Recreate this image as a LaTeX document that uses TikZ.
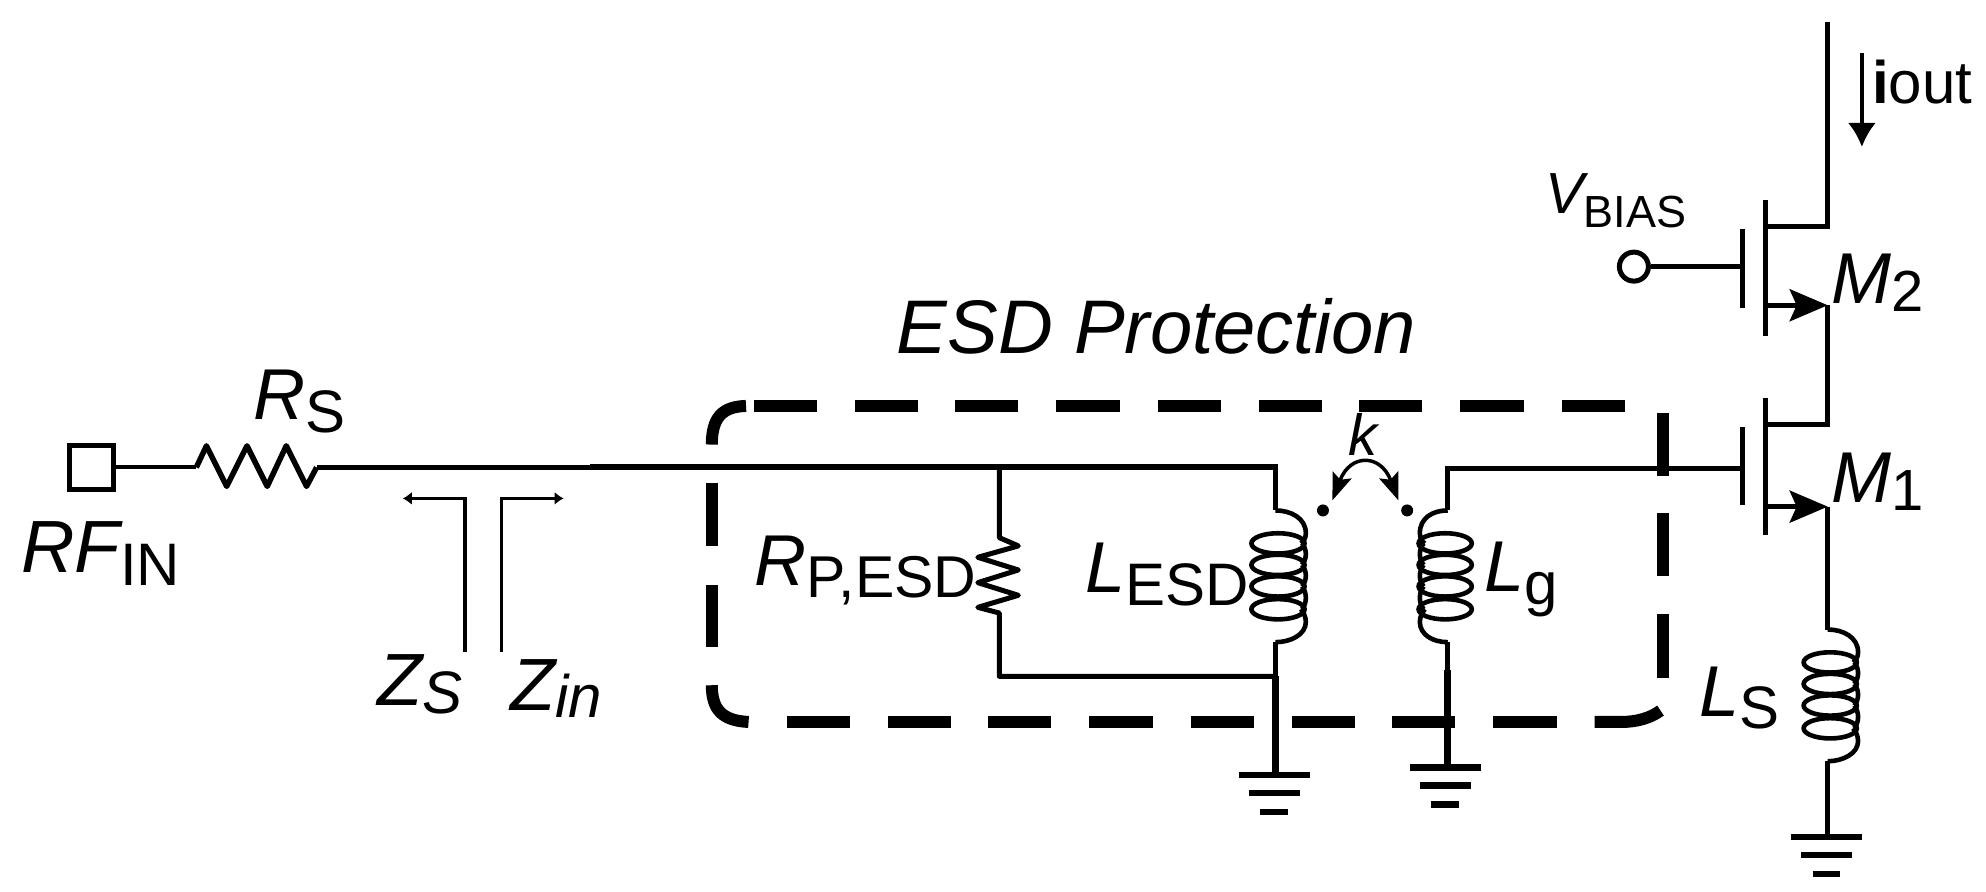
\documentclass[tikz,border=0pt]{standalone}
\usepackage{fontspec}
\setmainfont{Liberation Sans}
\usetikzlibrary{arrows.meta}
\tikzset{
  wire/.style={line width=5pt,line cap=butt,line join=miter},
  thinw/.style={line width=3.5pt},
  fat/.style={line width=6.5pt},
  box/.style={line width=12pt,line cap=butt},
  coilline/.style={line width=4.6pt},
  lab/.style={inner sep=0pt,outer sep=0pt,anchor=base west},
  src/.style={line width=5pt,-{Stealth[length=38pt,width=32pt,inset=7pt]}}
}
\newcommand{\fs}[1]{\fontsize{#1}{#1}\selectfont}
% main size, main text, sub size, drop(pt), sub shape+text
\newcommand{\slab}[5]{{\fs{#1}\itshape #2}\raisebox{-#4pt}{\fs{#3}#5}}
% x wire, y top, sign, centre offset
\newcommand{\mycoil}[4]{%
  \draw[coilline] (#1,#2) .. controls ({#1+#3*12},#2) and ({#1+#3*#4},{#2+6}) .. ({#1+#3*#4},{#2+18})
     .. controls ({#1+#3*#4},{#2+22}) and ({#1+#3*(#4-2)},{#2+25}) .. ({#1+#3*(#4-4)},{#2+26});
  \foreach \d in {26,43,60,78}{
    \draw[coilline] ({#1+#3*2},{#2+\d}) ellipse [x radius=21,y radius=8];
  }
  \foreach \a/\b in {26/43,43/60,60/78}{
    \draw[coilline] ({#1+#3*(#4-3)},{#2+\a}) .. controls ({#1+#3*(#4+1)},{#2+\a+5}) and ({#1+#3*(#4+1)},{#2+\b-5}) .. ({#1+#3*(#4-3)},{#2+\b});
  }
  \draw[coilline] ({#1+#3*(#4-4)},{#2+78}) .. controls ({#1+#3*(#4-2)},{#2+80}) and ({#1+#3*#4},{#2+84}) .. ({#1+#3*#4},{#2+88})
     .. controls ({#1+#3*#4},{#2+98}) and ({#1+#3*12},{#2+104}) .. (#1,{#2+104});
}
\newcommand{\gnd}[2]{%
  \draw[fat] ({#1-28},#2) -- ({#1+28},#2);
  \draw[fat] ({#1-20},{#2+14}) -- ({#1+20},{#2+14});
  \draw[fat] ({#1-11},{#2+29}) -- ({#1+11},{#2+29});
}
\begin{document}
\begin{tikzpicture}[x=1.2666pt,y=-1.2666pt]
\useasboundingbox (0,0) rectangle (1568,703.5);
% dashed protection box
\foreach \a in {595,675,754,834,914,994,1073,1153,1233}{\draw[box] (\a,320.5) -- (\a+50,320.5);}
\foreach \a in {621,701,780,860,940,1020,1099,1179}{\draw[box] (\a,570) -- (\a+50,570);}
\foreach \a/\b in {381/431,462/511}{\draw[box] (562,\a) -- (562,\b);}
\foreach \a/\b in {326/376,405/455,485/535}{\draw[box] (1313,\a) -- (1313,\b);}
\draw[box] (589,320.5) .. controls (570,321) and (562,330) .. (562,351);
\draw[box] (562,541) .. controls (562,560) and (570,569) .. (591,570);
\draw[box] (1259,570) -- (1280,570) .. controls (1292,570) and (1303,567) .. (1311,561);

% input
\node[draw,line width=5pt,minimum size=44pt,inner sep=0pt,rectangle] (rfin) at (72.5,369) {};
\coordinate (rs1) at (155,369);
\coordinate (rs2) at (250,369);
\coordinate (thick) at (466,369);
\coordinate (jr) at (789,369);
\coordinate (topl) at (1007,369);
\coordinate (ltop) at (1007,403);
\coordinate (lbot) at (1007,507);
\coordinate (jb) at (1007,534);
\coordinate (g1) at (1007,610);
\draw[line width=4pt] (rfin.east) -- (rs1);
\draw[line width=5.5pt,line join=round] (rs1) -- (163,352) -- (179,384) -- (195,352) -- (211,384) -- (226,352) -- (242,384) -- (rs2);
\draw[wire] (rs2) -- (thick);
\draw[line width=5.8pt] (thick) -- (topl) -- (ltop);
% shunt resistor
\draw[wire,line join=round] (jr) -- (789,424.5) -- (804,431) -- (772,440) -- (804,450) -- (772,460) -- (804,470) -- (772,479.5) -- (789,484) -- (789,534) -- (jb);
\mycoil{1007}{403}{1}{24}
\draw[wire] (lbot) -- (jb);
\draw[fat] (jb) -- (g1);
\gnd{1006}{612}
% secondary
\coordinate (lgtop) at (1143,403);
\coordinate (lgbot) at (1143,507);
\coordinate (lgm) at (1143,529);
\coordinate (g2) at (1143,606);
\coordinate (lgw) at (1143,370);
\coordinate (g1m) at (1378,370);
\draw[wire] (lgtop) -- (lgw) -- (g1m);
\mycoil{1143}{403}{-1}{22}
\draw[wire] (lgbot) -- (lgm);
\draw[fat] (lgm) -- (g2);
\gnd{1141}{606}
% coupling
\node[circle,fill=black,inner sep=0pt,minimum size=12pt] (d1) at (1044.5,403) {};
\node[circle,fill=black,inner sep=0pt,minimum size=12pt] (d2) at (1111,403) {};
\coordinate (kl) at (1052,395);
\coordinate (kr) at (1104,395);
\draw[line width=3.5pt,{Stealth[length=27pt,width=20pt,inset=5pt]}-{Stealth[length=27pt,width=20pt,inset=5pt]}] (kl) .. controls (1066,358) and (1090,358) .. (kr);
% M2
\coordinate (vtop) at (1443,17);
\coordinate (d2a) at (1443,179);
\coordinate (s2) at (1443,241);
\coordinate (d1a) at (1443,335);
\coordinate (s1) at (1443,400);
\coordinate (ltp) at (1443,497);
\coordinate (lbt) at (1443,601);
\coordinate (g3) at (1443,661);
\coordinate (c2s) at (1394,241);
\coordinate (c1s) at (1394,400);
\draw[wire,line join=miter] (vtop) -- (d2a) -- (1394,179);
\draw[wire] (1394,158) -- (1394,265);
\draw[wire] (1376,181) -- (1376,243);
\node[circle,draw,line width=5pt,minimum size=29pt,inner sep=0pt] (vb) at (1290,210.5) {};
\coordinate (g2g) at (1376,210.5);
\draw[wire] (vb.east) -- (g2g);
\draw[src] (c2s) -- (s2);
\draw[wire] (s2) -- (d1a) -- (1394,335);
% M1
\draw[wire] (1394,314) -- (1394,422);
\draw[wire] (1376,337) -- (1376,399);
\draw[src] (c1s) -- (s1);
\draw[wire] (s1) -- (ltp);
\mycoil{1443}{497}{1}{24}
\draw[wire] (lbt) -- (g3);
\gnd{1442}{661}
% Zs Zin
\coordinate (zs1) at (367,515);
\coordinate (zs2) at (367,393.5);
\coordinate (zs3) at (318,393.5);
\coordinate (zi1) at (396,515);
\coordinate (zi2) at (396,393.5);
\coordinate (zi3) at (445,393.5);
\draw[thinw,-{Latex[length=9pt,width=13pt]}] (zs1) -- (zs2) -- (zs3);
\draw[thinw,-{Latex[length=9pt,width=13pt]}] (zi1) -- (zi2) -- (zi3);
% iout arrow
\coordinate (ia) at (1470,42);
\coordinate (ib) at (1470,116);
\draw[line width=3.5pt,-{Latex[length=24pt,width=28pt]}] (ia) -- (ib);
% labels
\node[lab] (tout) at (1478,82) {\fs{60}\textbf{i}out};
\node[lab] (tvb) at (1220,168.6) {\slab{58}{V}{45}{14}{BIAS}};
\node[lab] (tm2) at (1446,240) {\slab{72}{M}{58}{8}{2}};
\node[lab] (tm1) at (1446,397) {\slab{72}{M}{58}{8}{1}};
\node[lab] (tesd) at (708,279) {\fs{76}\itshape ESD Protection};
\node[lab] (trs) at (200,331) {\slab{72}{R}{60}{13}{S}};
\node[lab] (trf) at (17,452) {\slab{74}{RF}{60}{13}{IN}};
\node[lab] (tzs) at (298,557) {\slab{74}{Z}{60}{8}{\itshape S}};
\node[lab] (tzi) at (403,561) {\slab{74}{Z}{60}{7}{\itshape in}};
\node[lab] (trp) at (596,462) {\slab{72}{R}{59}{12}{P,ESD}};
\node[lab] (tle) at (857,468) {\slab{72}{L}{60}{13}{ESD}};
\node[lab] (tk) at (1065,360) {\fs{58}\itshape k};
\node[lab] (tlg) at (1172,467) {\slab{72}{L}{60}{13}{g}};
\node[lab] (tls) at (1342,566) {\slab{72}{L}{60}{12}{S}};
\end{tikzpicture}
\end{document}
